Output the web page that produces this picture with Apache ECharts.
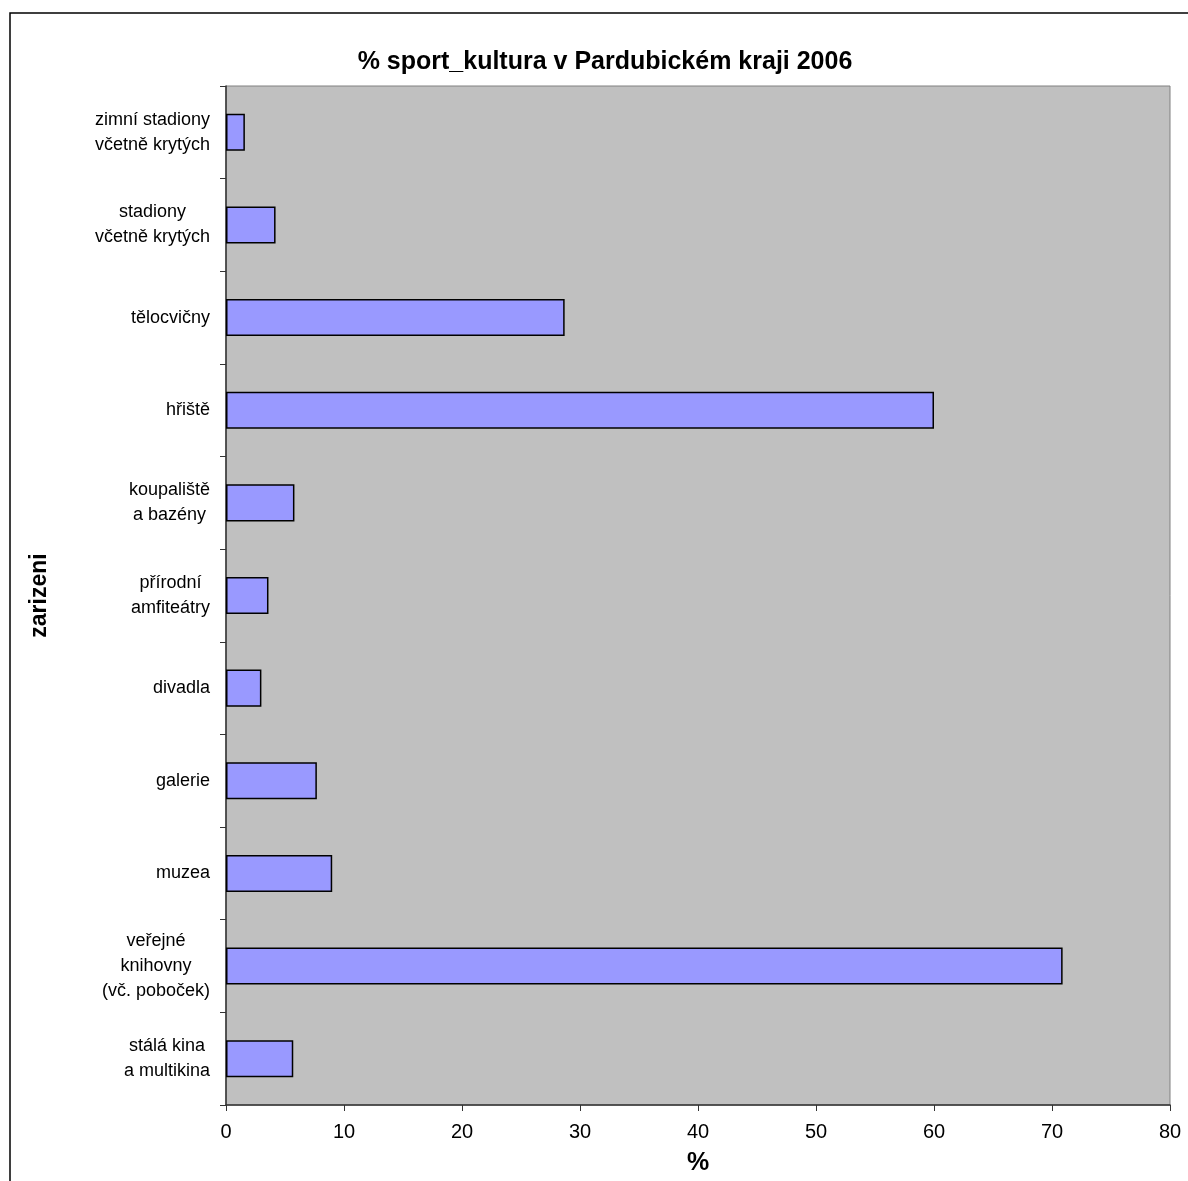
<!DOCTYPE html>
<html>
<head>
<meta charset="utf-8">
<script src="https://cdn.jsdelivr.net/npm/echarts@6/dist/echarts.min.js"></script>
<style>
  html, body { margin: 0; padding: 0; background: #fff; }
  #chart { width: 1188px; height: 1181px; }
</style>
</head>
<body>
<div id="chart"></div>
<script>
  // kategorie odspodu nahoru (category osa kreslí první položku dole)
  const categories = [
    'stálá kina\na multikina',
    'veřejné\nknihovny\n(vč. poboček)',
    'muzea',
    'galerie',
    'divadla',
    'přírodní\namfiteátry',
    'koupaliště\na bazény',
    'hřiště',
    'tělocvičny',
    'stadiony\nvčetně krytých',
    'zimní stadiony\nvčetně krytých'
  ]
  const values = [5.7, 70.9, 9.0, 7.7, 3.0, 3.6, 5.8, 60.0, 28.7, 4.2, 1.6]
  const xTicks = [0, 10, 20, 30, 40, 50, 60, 70, 80]

  const FONT = '"Liberation Sans", Arial, sans-serif'
  const labelSize = 18

  // řádky popisků centrované mezi sebou, blok zarovnaný doprava
  const ctx = document.createElement('canvas').getContext('2d')
  ctx.font = labelSize + 'px ' + FONT
  const rich = {}
  categories.forEach((c, i) => {
    const w = Math.max(...c.split('\n').map(l => ctx.measureText(l).width))
    rich['r' + i] = {
      width: Math.ceil(w) + 1,
      align: 'center',
      fontSize: labelSize,
      fontFamily: FONT,
      color: '#000',
      lineHeight: 25
    }
  })

  const chart = echarts.init(document.getElementById('chart'))
  chart.setOption({
    animation: false,
    backgroundColor: '#fff',
    title: {
      text: '% sport_kultura v Pardubickém kraji 2006',
      left: 600,
      top: 45,
      textAlign: 'center',
      textStyle: { fontFamily: FONT, fontSize: 25, fontWeight: 'bold', color: '#000' }
    },
    graphic: [{
      type: 'rect',
      z: -1,
      shape: { x: 10, y: 13, width: 1300, height: 1300 },
      style: { fill: 'none', stroke: '#000', lineWidth: 1.5 }
    }],
    grid: {
      left: 226,
      right: 18,
      top: 86,
      bottom: 76,
      show: true,
      backgroundColor: '#c0c0c0',
      borderColor: '#808080',
      borderWidth: 1
    },
    xAxis: {
      type: 'value',
      min: xTicks[0],
      max: xTicks[xTicks.length - 1],
      interval: 10,
      name: '%',
      nameLocation: 'middle',
      nameGap: 46,
      nameTextStyle: { fontFamily: FONT, fontSize: 25, fontWeight: 'bold', color: '#000' },
      axisLine: { show: true, lineStyle: { color: '#333', width: 1.5 } },
      axisTick: { show: true, length: 6, lineStyle: { color: '#333' } },
      axisLabel: { margin: 17, fontFamily: FONT, fontSize: 20, color: '#000' },
      splitLine: { show: false }
    },
    yAxis: {
      type: 'category',
      data: categories,
      name: 'zarizeni',
      nameLocation: 'middle',
      nameGap: 175,
      nameRotate: 90,
      nameTextStyle: { fontFamily: FONT, fontSize: 23, fontWeight: 'bold', color: '#000' },
      axisLine: { show: true, lineStyle: { color: '#333', width: 1.5 } },
      axisTick: { show: true, length: 6, lineStyle: { color: '#333' } },
      axisLabel: {
        margin: 15,
        align: 'right',
        formatter: function (val, idx) {
          return val.split('\n').map(l => '{r' + idx + '|' + l + '}').join('\n')
        },
        rich: rich
      },
      splitLine: { show: false }
    },
    series: [{
      type: 'bar',
      data: values,
      barWidth: '40%',
      itemStyle: { color: '#9999ff', borderColor: '#000', borderWidth: 1.5 }
    }]
  })
</script>
</body>
</html>
